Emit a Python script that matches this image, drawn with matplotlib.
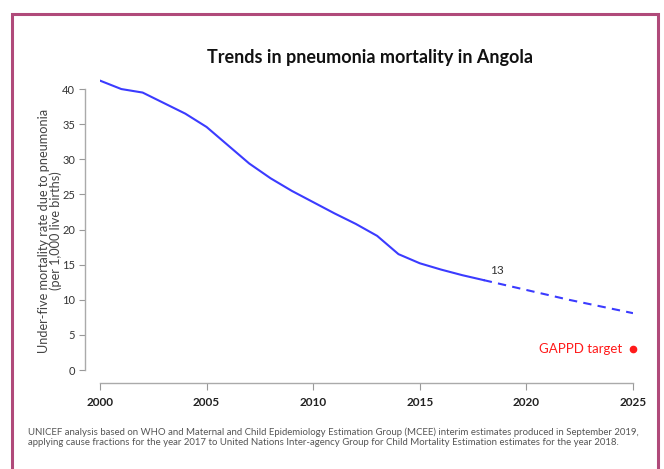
import matplotlib.pyplot as plt
from matplotlib.patches import Rectangle

# Data
years = [2000, 2001, 2002, 2003, 2004, 2005, 2006, 2007, 2008, 2009,
         2010, 2011, 2012, 2013, 2014, 2015, 2016, 2017, 2018]
rates = [41.2, 40.0, 39.5, 38.0, 36.5, 34.6, 32.0, 29.4, 27.3, 25.5,
         23.9, 22.3, 20.8, 19.1, 16.5, 15.2, 14.3, 13.5, 12.8]
proj_years = [2018, 2020, 2022, 2025]
proj_rates = [12.8, 11.4, 10.0, 8.1]
target_year = 2025
target_rate = 3
last_label = "13"
xticks = [2000, 2005, 2010, 2015, 2020, 2025]
yticks = [0, 5, 10, 15, 20, 25, 30, 35, 40]

plt.rcParams['font.family'] = ['Lato', 'DejaVu Sans']

fig = plt.figure(figsize=(6.64, 4.69), dpi=100)
ax = fig.add_axes([0.1506, 0.184, 0.8027, 0.6486])

# Border around the whole panel
fig.patches.append(Rectangle((12 / 664, -0.01), 646 / 664, 1 - 14 / 469 + 0.01,
                             transform=fig.transFigure, fill=False,
                             edgecolor='#b04a7a', linewidth=2.2))

ax.plot(years, rates, color='#3b3bff', linewidth=1.5, solid_joinstyle='round')
ax.plot(proj_years, proj_rates, color='#3b3bff', linewidth=1.5, linestyle=(0, (4, 3)))
ax.plot([target_year], [target_rate], 'o', color='#ff1a1a', markersize=4.5, clip_on=False)
ax.text(target_year - 0.5, target_rate, "GAPPD target", color='#ff1a1a',
        fontsize=9.5, ha='right', va='center')
ax.text(2018.3, 14.2, last_label, color='#333333', fontsize=8.5, ha='left', va='center')

ax.set_xlim(2000, 2025)
ax.set_ylim(-1.8, 41.5)
ax.set_xticks(xticks)
ax.set_yticks(yticks)
ax.tick_params(axis='x', labelsize=8.5, colors='#999999', labelcolor='#222222', length=5, pad=5)
ax.tick_params(axis='y', labelsize=8, colors='#999999', labelcolor='#333333', length=4, pad=3)
for lbl in ax.get_xticklabels():
    lbl.set_fontweight('bold')

for side in ['top', 'right']:
    ax.spines[side].set_visible(False)
ax.spines['left'].set_position(('outward', 11))
ax.spines['left'].set_bounds(0, 40)
for side in ['left', 'bottom']:
    ax.spines[side].set_color('#aaaaaa')
    ax.spines[side].set_linewidth(1.0)

ax.set_ylabel("Under-five mortality rate due to pneumonia\n(per 1,000 live births)",
              fontsize=9.2, color='#444444', labelpad=0, linespacing=0.95)

fig.text(370 / 664, 1 - 58 / 469, "Trends in pneumonia mortality in Angola",
         fontsize=13, fontweight='bold', ha='center', va='center', color='#111111')

fig.text(28 / 664, 1 - 437 / 469,
         "UNICEF analysis based on WHO and Maternal and Child Epidemiology Estimation Group (MCEE) interim estimates produced in September 2019,\n"
         "applying cause fractions for the year 2017 to United Nations Inter-agency Group for Child Mortality Estimation estimates for the year 2018.",
         fontsize=6.9, ha='left', va='center', color='#555555', linespacing=1.1)

fig.savefig("out.png", dpi=100)
